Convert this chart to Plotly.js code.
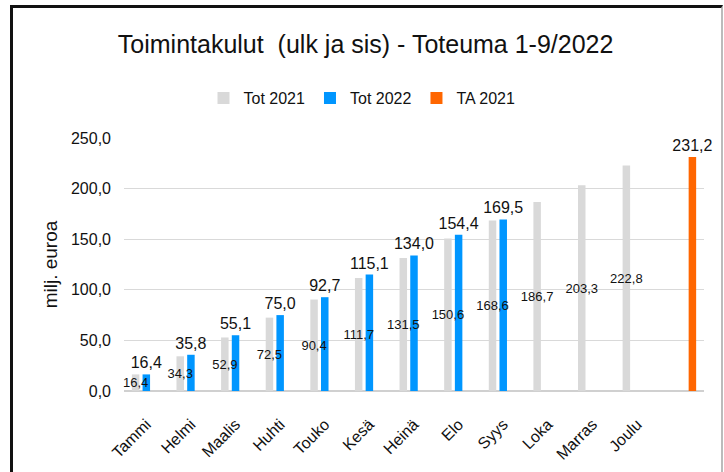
<!DOCTYPE html>
<html>
<head>
<meta charset="utf-8">
<script src="https://cdn.plot.ly/plotly-3.0.1.min.js"></script>
<style>
  html, body { margin: 0; padding: 0; background: #fff; }
  #wrap { position: relative; width: 724px; height: 472px; overflow: hidden; }
  #chart { position: absolute; left: 0; top: 0; width: 724px; height: 472px; }
  #frame { position: absolute; left: 10px; top: 5px; width: 708px; height: 500px;
           border-left: 3px solid #111; border-top: 3px solid #111; border-right: 2px solid #bbb;
           pointer-events: none; }
</style>
</head>
<body>
<div id="wrap">
  <div id="chart"></div>
  <div id="frame"></div>
</div>
<script>
const months = ["Tammi", "Helmi", "Maalis", "Huhti", "Touko", "Kesä", "Heinä", "Elo", "Syys", "Loka", "Marras", "Joulu"];
const taCategory = ["TA 2021"];
const tot2021 = [16.4, 34.3, 52.9, 72.5, 90.4, 111.7, 131.5, 150.6, 168.6, 186.7, 203.3, 222.8];
const tot2022 = [16.4, 35.8, 55.1, 75.0, 92.7, 115.1, 134.0, 154.4, 169.5];
const ta2021 = [231.2];
const yTicks = [0, 50, 100, 150, 200, 250];

const FONT = "Liberation Sans, Arial, sans-serif";

const traces = [
  {
    type: "bar", name: "Tot 2021", x: months, y: tot2021, offsetgroup: "g1",
    marker: { color: "#d9d9d9", line: { width: 0 } },
    hoverinfo: "skip"
  },
  {
    type: "bar", name: "Tot 2022", x: months.slice(0, tot2022.length), y: tot2022, offsetgroup: "g2",
    marker: { color: "#0096ff", line: { width: 0 } },
    texttemplate: "%{y:.1f}", textposition: "outside", textangle: 0, constraintext: "none",
    outsidetextfont: { family: FONT, size: 16, color: "#111" },
    hoverinfo: "skip", cliponaxis: false
  },
  {
    type: "bar", name: "TA 2021", x: taCategory, y: ta2021, offsetgroup: "g3",
    marker: { color: "#ff6600", line: { width: 0 } },
    texttemplate: "%{y:.1f}", textposition: "outside", textangle: 0, constraintext: "none",
    outsidetextfont: { family: FONT, size: 16, color: "#111" },
    hoverinfo: "skip", cliponaxis: false
  },
  {
    // labels for Tot 2021, drawn on top of all bars (same slot as Tot 2021)
    type: "bar", name: "Tot 2021 labels", x: months, y: tot2021, offsetgroup: "g1",
    showlegend: false,
    marker: { color: "rgba(0,0,0,0)", line: { width: 0 } },
    texttemplate: "%{y:.1f}", textposition: "inside", insidetextanchor: "middle",
    textangle: 0, constraintext: "none",
    insidetextfont: { family: FONT, size: 13, color: "#111" },
    hoverinfo: "skip", cliponaxis: false
  }
];

const layout = {
  width: 724, height: 472,
  paper_bgcolor: "#fff", plot_bgcolor: "#fff",
  margin: { l: 124, r: 20, t: 138, b: 81 },
  separators: ", ",
  font: { family: FONT, color: "#111" },
  title: {
    text: "Toimintakulut  (ulk ja sis) - Toteuma 1-9/2022",
    font: { family: FONT, size: 25, color: "#111" },
    xref: "container", x: 0.505, xanchor: "center",
    yref: "container", y: 0.907, yanchor: "middle"
  },
  showlegend: true,
  legend: {
    orientation: "h", xref: "container", yref: "container",
    x: 0.5, xanchor: "center", y: 0.792, yanchor: "middle",
    font: { family: FONT, size: 16, color: "#111" },
    itemwidth: 30, traceorder: "normal"
  },
  barmode: "group",
  bargap: 0.28,
  bargroupgap: 0.3,
  xaxis: {
    type: "category",
    categoryorder: "array",
    categoryarray: months.concat(taCategory),
    tickvals: months,
    ticktext: months,
    tickangle: -45,
    tickfont: { family: FONT, size: 16, color: "#111" },
    ticklabelstandoff: 20,
    showgrid: false, showline: false, ticks: "",
    zeroline: false
  },
  yaxis: {
    range: [0, 250],
    tickvals: yTicks,
    tickformat: ".1f",
    tickfont: { family: FONT, size: 16, color: "#111" },
    ticklabelstandoff: 12,
    showgrid: true, gridcolor: "#d9d9d9", gridwidth: 1,
    zeroline: true, zerolinecolor: "#d0d0d0", zerolinewidth: 1.5,
    showline: false, ticks: "",
    title: { text: "milj. euroa", font: { family: FONT, size: 19, color: "#111" }, standoff: 8 }
  }
};

Plotly.newPlot("chart", traces, layout, { staticPlot: true, displayModeBar: false });
</script>
</body>
</html>
